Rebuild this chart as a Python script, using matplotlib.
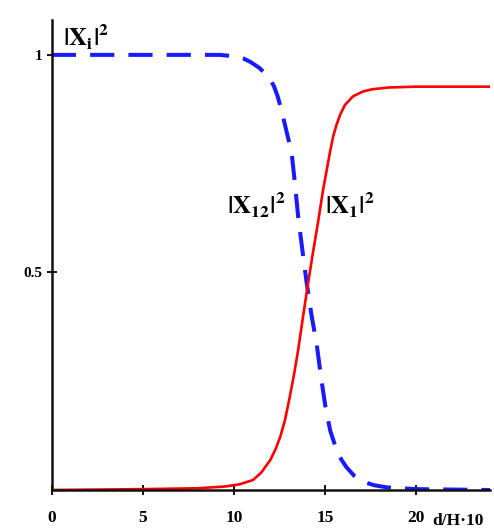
import matplotlib
matplotlib.use("Agg")
import matplotlib.pyplot as plt
import matplotlib.transforms as mtransforms

plt.rcParams['font.family'] = ['Liberation Serif', 'DejaVu Serif']
plt.rcParams['mathtext.fontset'] = 'stix'

# |X12|^2 (dashed blue)
d12 = [0, 9.2, 10.0, 10.5, 10.9, 11.4, 11.7, 12.0, 12.2, 12.4, 12.6, 12.8, 13.0,
       13.17, 13.35, 13.53, 13.75, 14.0, 14.27, 14.54, 14.8, 15.05, 15.3, 15.64,
       15.9, 16.19, 16.6, 17.1, 17.7, 18.4, 20.0, 24.07]
x12 = [1.0, 1.0, 0.997, 0.992, 0.984, 0.97, 0.958, 0.943, 0.928, 0.905, 0.875, 0.84, 0.805,
       0.775, 0.705, 0.628, 0.555, 0.475, 0.4, 0.337, 0.255, 0.185, 0.135, 0.092,
       0.07, 0.052, 0.033, 0.019, 0.011, 0.006, 0.002, 0.0]

# |X1|^2 (solid red)
d1 = [0, 5, 8, 9.5, 10.3, 11.05, 11.5, 12.0, 12.3, 12.55, 12.8, 13.05, 13.3, 13.53,
      13.75, 14.0, 14.3, 14.6, 14.9, 15.27, 15.45, 15.64, 15.85, 16.1, 16.55, 17.1,
      17.6, 18.5, 20.0, 24.07]
x1 = [0.0, 0.002, 0.004, 0.008, 0.013, 0.023, 0.04, 0.069, 0.095, 0.123, 0.16, 0.21, 0.265, 0.322,
      0.385, 0.455, 0.535, 0.61, 0.69, 0.775, 0.812, 0.84, 0.864, 0.885, 0.905, 0.916,
      0.921, 0.925, 0.927, 0.927]

xticks = [0, 5, 10, 15, 20]
yticks = [0.5, 1]
ytick_labels = ['0.5', '1']

fig = plt.figure(figsize=(4.94, 5.31), dpi=100)
ax = fig.add_axes([0.105, 0.0772, 0.887, 0.885])

ax.plot(d12, x12, color='#1a1aff', lw=2.9, dashes=(6, 3.5), solid_capstyle='butt')
ax.plot(d1, x1, color='#ff0000', lw=1.9)

ax.set_xlim(0, 24.07)
ax.set_ylim(0, 1.08)

for s in ['top', 'right']:
    ax.spines[s].set_visible(False)
for s in ['left', 'bottom']:
    ax.spines[s].set_linewidth(1.8)
    ax.spines[s].set_color('#111111')

ax.set_xticks(xticks)
ax.set_xticklabels([str(t) for t in xticks], fontsize=12.5, fontweight='bold')
ax.set_yticks(yticks)
ax.set_yticklabels(ytick_labels, fontsize=11, fontweight='bold')
ax.tick_params(axis='x', direction='inout', length=7, width=1.3, pad=11)
ax.tick_params(axis='y', direction='inout', length=7, width=1.3, pad=3)

# axis label next to the last x tick
trans = mtransforms.blended_transform_factory(ax.transData, ax.transAxes)
ax.text(20.9, -0.066, 'd/H·10', transform=trans, fontsize=12.5, fontweight='bold',
        ha='left', va='center', clip_on=False)

ax.text(0.6, 1.04, r'$\mathbf{|X_{i}|^{2}}$', fontsize=18, ha='left', va='center')
ax.text(9.6, 0.655, r'$\mathbf{|X_{12}|^{2}}$', fontsize=18, ha='left', va='center')
ax.text(15.0, 0.655, r'$\mathbf{|X_{1}|^{2}}$', fontsize=18, ha='left', va='center')

fig.savefig('out.png', dpi=100, facecolor='white')
